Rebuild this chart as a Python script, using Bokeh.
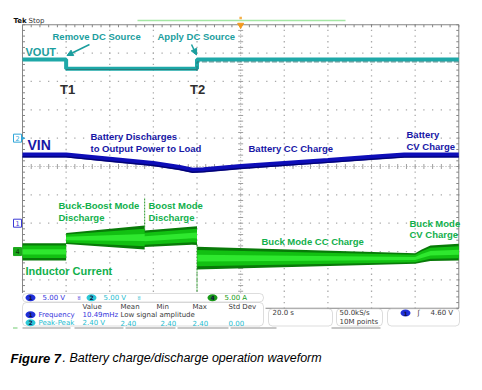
import numpy as np
from bokeh.plotting import figure
from bokeh.models import Range1d, Arrow, NormalHead, BoxAnnotation
from bokeh.core.properties import value
from bokeh.embed import file_html
from bokeh.resources import INLINE

# ---------------- scope settings ----------------
time_per_div = 20.0          # "20.0 s"
h_div_lines = [-100, -80, -60, -40, -20, 0, 20, 40, 60, 80, 100]
v_div_lines = [5, 4, 3, 2, 1, 0, -1, -2, -3, -4, -5]

# ---------------- traces: time (s, trigger = 0) / screen position (div) ----------------
vout_t = [-100, -80, -80, -20, -20, 100]
vout_div = [3.77, 3.77, 3.45, 3.45, 3.77, 3.77]

vin_t = [-100, -80, -60, -40, -28, -22, -17, 0, 20, 40, 60, 75, 100]
vin_div = [0.409, 0.409, 0.257, 0.106, -0.035, -0.134, -0.113, 0.0, 0.109, 0.215, 0.325, 0.402, 0.409]

il_t = [-100, -80, -80, -44, -44, -20, -20, 80, 83, 87, 100]
il_top_div = [-2.705, -2.705, -2.346, -2.081, -2.257, -2.106, -2.832, -3.058, -2.928, -2.787, -2.727]
il_bot_div = [-3.316, -3.316, -2.734, -2.928, -2.840, -2.751, -3.633, -3.432, -3.386, -3.333, -3.316]

spike_t = [-44, -20]
spike_from_div = [-2.257, -2.751]
spike_to_div = [-1.09, -4.44]

marker_labels = ["2", "1", "4"]
marker_div = [1.0, -2.0, -3.0]

# ---------------- readouts ----------------
ch_scale = ["5.00 V", "5.00 V", "5.00 A"]
meas_head = ["Value", "Mean", "Min", "Max", "Std Dev"]
meas_freq = ["Frequency", "10.49mHz", "Low signal amplitude"]
meas_pk = ["Peak-Peak", "2.40 V", "2.40", "2.40", "2.40", "0.00"]
horiz_text = "20.0 s"
acq_text = ["50.0kS/s", "10M points"]
trig_text = "4.60 V"

# ---------------- pixel <-> data helpers ----------------
X0, KX = 240.15, 43.63 / time_per_div
Y0, KY = 166.0, 28.35


def X(px):
    return (px - X0) / KX


def Y(py):
    return (Y0 - py) / KY


p = figure(width=466, height=374, output_backend="svg", toolbar_location=None,
           x_range=Range1d(X(0), X(466)), y_range=Range1d(Y(374), Y(0)),
           x_axis_location=None, y_axis_location=None, min_border=0)
p.title.visible = False
p.outline_line_color = None
p.xgrid.visible = False
p.ygrid.visible = False
p.background_fill_color = "white"
p.border_fill_color = "white"

GRID = "#a9a9a9"
tmin, tmax = h_div_lines[0], h_div_lines[-1]
dtop, dbot = v_div_lines[0], v_div_lines[-1]

# dotted graticule (dots at minor positions)
minor_t = np.arange(tmin, tmax + 0.01, time_per_div / 5)
minor_d = np.arange(dbot, dtop + 0.01, 0.2)
vt = [t for t in h_div_lines[1:-1] if t != 0]
hd = [d for d in v_div_lines[1:-1] if d != 0]
gx = np.concatenate([np.repeat(vt, len(minor_d)), np.tile(minor_t, len(hd))])
gy = np.concatenate([np.tile(minor_d, len(vt)), np.repeat(hd, len(minor_t))])
p.scatter(gx, gy, marker="square", size=1.3, fill_color=GRID, line_color=None, level="image")
# centre lines with ticks
p.segment(x0=[0, tmin], y0=[dtop, 0], x1=[0, tmax], y1=[dbot, 0], line_color="#a8a8a8",
          line_width=1, line_dash="1 2", level="image")
p.segment(x0=minor_t, y0=np.full(len(minor_t), 2.5 / KY), x1=minor_t,
          y1=np.full(len(minor_t), -2.5 / KY), line_color="#a0a0a0", line_width=1, level="image")
p.segment(x0=np.full(len(minor_d), -2.5 / KX), y0=minor_d, x1=np.full(len(minor_d), 2.5 / KX),
          y1=minor_d, line_color="#a0a0a0", line_width=1, level="image")
# frame
FR = "#858585"
p.segment(x0=[tmin, tmin, tmax, tmin], y0=[dtop, dtop, dtop, dbot], x1=[tmax, tmin, tmax, tmax],
          y1=[dtop, dbot, dbot, dbot], line_color=FR, line_width=1, level="image")
p.segment(x0=np.full(len(minor_d), tmin), y0=minor_d, x1=np.full(len(minor_d), tmin + 2.5 / KX),
          y1=minor_d, line_color=FR, line_width=1, level="image")
p.segment(x0=np.full(len(minor_d), tmax), y0=minor_d, x1=np.full(len(minor_d), tmax - 2.5 / KX),
          y1=minor_d, line_color=FR, line_width=1, level="image")
p.segment(x0=minor_t, y0=np.full(len(minor_t), dtop), x1=minor_t,
          y1=np.full(len(minor_t), dtop - 2.5 / KY), line_color=FR, line_width=1, level="image")

# ---------------- traces ----------------
TEAL_TR = "#1ea8a8"
p.line(vout_t, vout_div, line_color=TEAL_TR, line_width=4)
vout_shadow = [v - 2.3 / KY for v in vout_div]
p.line(vout_t[3:], vout_shadow[3:], line_color="#2b6e6e", line_width=1, line_dash="5 2", alpha=0.8)
p.line(vout_t[2:4], [v - 0.8 / KY for v in vout_div[2:4]], line_color="#2a7c7c", line_width=1.2)

p.line(vin_t, vin_div, line_color="#0e0eb8", line_width=5)
p.line(vin_t, [v - 2.0 / KY for v in vin_div], line_color="#00006e", line_width=1.4, alpha=0.9)

top = np.array(il_top_div)
bot = np.array(il_bot_div)
w = top - bot
p.varea(x=il_t, y1=bot, y2=top, fill_color="#087a08")
p.varea(x=il_t, y1=bot + 0.14 * w, y2=top - 0.14 * w, fill_color="#12c012")
p.varea(x=il_t, y1=bot + 0.35 * w, y2=top - 0.35 * w, fill_color="#2ee82e")
p.segment(x0=spike_t, y0=spike_from_div, x1=spike_t, y1=spike_to_div,
          line_color="#2a9a2a", line_width=1, line_dash="2 1")

# trigger / record indicators
p.line([X(137), X(345)], [Y(20), Y(20)], line_color="#a4e6a4", line_width=1.5)
p.scatter([0], [Y(24.5)], marker="inverted_triangle", size=6, fill_color="#f39a1e",
          line_color="#f39a1e")
p.scatter([0], [Y(17.5)], marker="square", size=2.5, fill_color="#f5b04a", line_color=None)

# channel markers
mcol = ["#2fa6d8", "#3a3ad6", "#1aa81a"]
mfill = ["white", "white", "#1aa81a"]
mtxt = ["#2fa6d8", "#3a3ad6", "#0a3a0a"]
mx = X(17)
p.scatter([mx] * 3, marker_div, marker="square", size=8, fill_color=mfill,
          line_color=mcol, line_width=1)
p.text([mx] * 3, marker_div, text=marker_labels, text_color=mtxt, text_font=value("DejaVu Sans"),
       text_font_size="6.5px", text_align="center", text_baseline="middle")
p.scatter([X(22.5)], [marker_div[0]], marker="triangle", angle=-np.pi / 2, size=4,
          fill_color="#2fa6d8", line_color=None)

# ---------------- annotations ----------------
TEAL = "#1b9e9e"
BLUE = "#1717a6"
GREEN = "#12b04c"


def txt(px, py, s, color, size, style="bold", font="Liberation Sans", align="left"):
    p.text([X(px)], [Y(py)], text=[s], text_color=color, text_font=value(font),
           text_font_size=f"{size}px", text_font_style=style, text_align=align,
           text_baseline="middle")


txt(52, 35.5, "Remove DC Source", TEAL, 9.5)
txt(157, 35.5, "Apply DC Source", TEAL, 9.5)
txt(25, 51.5, "VOUT", TEAL, 11)
txt(59.5, 88.5, "T1", "#2e2e2e", 13)
txt(189.5, 88.5, "T2", "#2e2e2e", 13)
txt(27, 144, "VIN", BLUE, 14)
txt(90, 136.3, "Battery Discharges", BLUE, 9.5)
txt(90, 147.7, "to Output Power to Load", BLUE, 9.5)
txt(248, 147.7, "Battery CC Charge", BLUE, 9.5)
txt(406, 134.3, "Battery", BLUE, 9.5)
txt(406, 145.5, "CV Charge", BLUE, 9.5)
txt(58, 205.3, "Buck-Boost Mode", GREEN, 9.5)
txt(58, 216.8, "Discharge", GREEN, 9.5)
txt(148, 205.3, "Boost Mode", GREEN, 9.5)
txt(148, 216.8, "Discharge", GREEN, 9.5)
txt(261, 241.3, "Buck Mode CC Charge", GREEN, 9.5)
txt(409, 222.7, "Buck Mode", GREEN, 9.5)
txt(409, 234.2, "CV Charge", GREEN, 9.5)
txt(25, 270.7, "Inductor Current", GREEN, 11)

for xs, ys, xe, ye in [(89, 44, 66.5, 55), (191, 44, 196, 54.5)]:
    p.add_layout(Arrow(end=NormalHead(size=6, fill_color=TEAL, line_color=TEAL),
                       x_start=X(xs), y_start=Y(ys), x_end=X(xe), y_end=Y(ye),
                       line_color=TEAL, line_width=1.5))

txt(13, 20.5, "Tek", "#111111", 7, font="DejaVu Sans")
txt(28, 20.5, "Stop", "#333333", 7, style="normal", font="DejaVu Sans")

# ---------------- readout panel ----------------
p.add_layout(BoxAnnotation(left=X(20), right=X(265), top=Y(292.5), bottom=Y(340),
                           fill_color="white", fill_alpha=1, line_color=None, level="underlay"))
p.add_layout(BoxAnnotation(left=X(265), right=X(464), top=Y(308.6), bottom=Y(340),
                           fill_color="white", fill_alpha=1, line_color=None, level="underlay"))
BOXL = "#8e8e8e"
for l, r, t, b in [(22, 263, 293, 301.5), (22, 263, 302, 325.5), (268, 332, 308.3, 325.5),
                   (336, 382, 308.3, 325.5), (387, 459, 308.3, 325.5)]:
    p.add_layout(BoxAnnotation(left=X(l), right=X(r), top=Y(t), bottom=Y(b), fill_color="white",
                               fill_alpha=1, line_color=BOXL, line_width=1, border_radius=4,
                               level="underlay"))

C1 = "#3434dc"
C2 = "#25bccf"
C4 = "#169c16"
DK = "#3a3a3a"


def oval(px, py, fill, label):
    p.ellipse([X(px)], [Y(py)], width=10, height=7, width_units="screen", height_units="screen",
              fill_color=fill, line_color=None)
    p.text([X(px)], [Y(py)], text=[label], text_color="#101040", text_font=value("DejaVu Sans"),
           text_font_size="6px", text_font_style="bold", text_align="center", text_baseline="middle")


def ro(px, py, s, color, size=7):
    txt(px, py, s, color, size, style="normal", font="DejaVu Sans")


oval(30, 297.3, "#1f2fd8", "1")
ro(42, 297.3, ch_scale[0], C1)
ro(77, 297.3, "\u02ac", C1, 6)
oval(91, 297.3, "#2cc8d8", "2")
ro(103, 297.3, ch_scale[1], C2)
ro(137, 297.3, "\u02ac", C2, 6)
oval(212, 297.3, "#1a9a1a", "4")
ro(224, 297.3, ch_scale[2], C4)

for xh, s in zip([82, 120, 156, 192, 228], meas_head):
    ro(xh, 306.7, s, DK)
oval(30, 314.3, "#1f2fd8", "1")
ro(38, 314.3, meas_freq[0], C1)
ro(82, 314.3, meas_freq[1], C1)
ro(120, 314.3, meas_freq[2], DK)
oval(30, 322.3, "#2cc8d8", "2")
for xv, s in zip([38, 82, 120, 160, 192, 228], meas_pk):
    ro(xv, 322.3, s, C2)

ro(272, 312.5, horiz_text, DK)
ro(339, 312.5, acq_text[0], DK)
ro(339, 321.2, acq_text[1], DK)
oval(405, 312.5, "#1f2fd8", "1")
ro(417, 312.5, "\u0283", DK)
ro(430, 312.5, trig_text, DK)

p.segment(x0=[X(a) for a in [22, 74, 125, 177, 230, 331]], y0=[Y(327.5)] * 6,
          x1=[X(b) for b in [70, 123, 175, 228, 276, 380]], y1=[Y(327.5)] * 6,
          line_color="#b5b5b5", line_width=1.5)
p.segment(x0=[X(12.5)], y0=[Y(327.5)], x1=[X(17)], y1=[Y(327.5)], line_color="#9fdc9f", line_width=1.5)

# ---------------- caption ----------------
txt(10, 357.5, "Figure 7", "#000000", 13, style="bold italic")
txt(62, 357.5, ". Battery charge/discharge operation waveform", "#000000", 12.5, style="italic")

open("out.html", "w").write(file_html(p, INLINE))
